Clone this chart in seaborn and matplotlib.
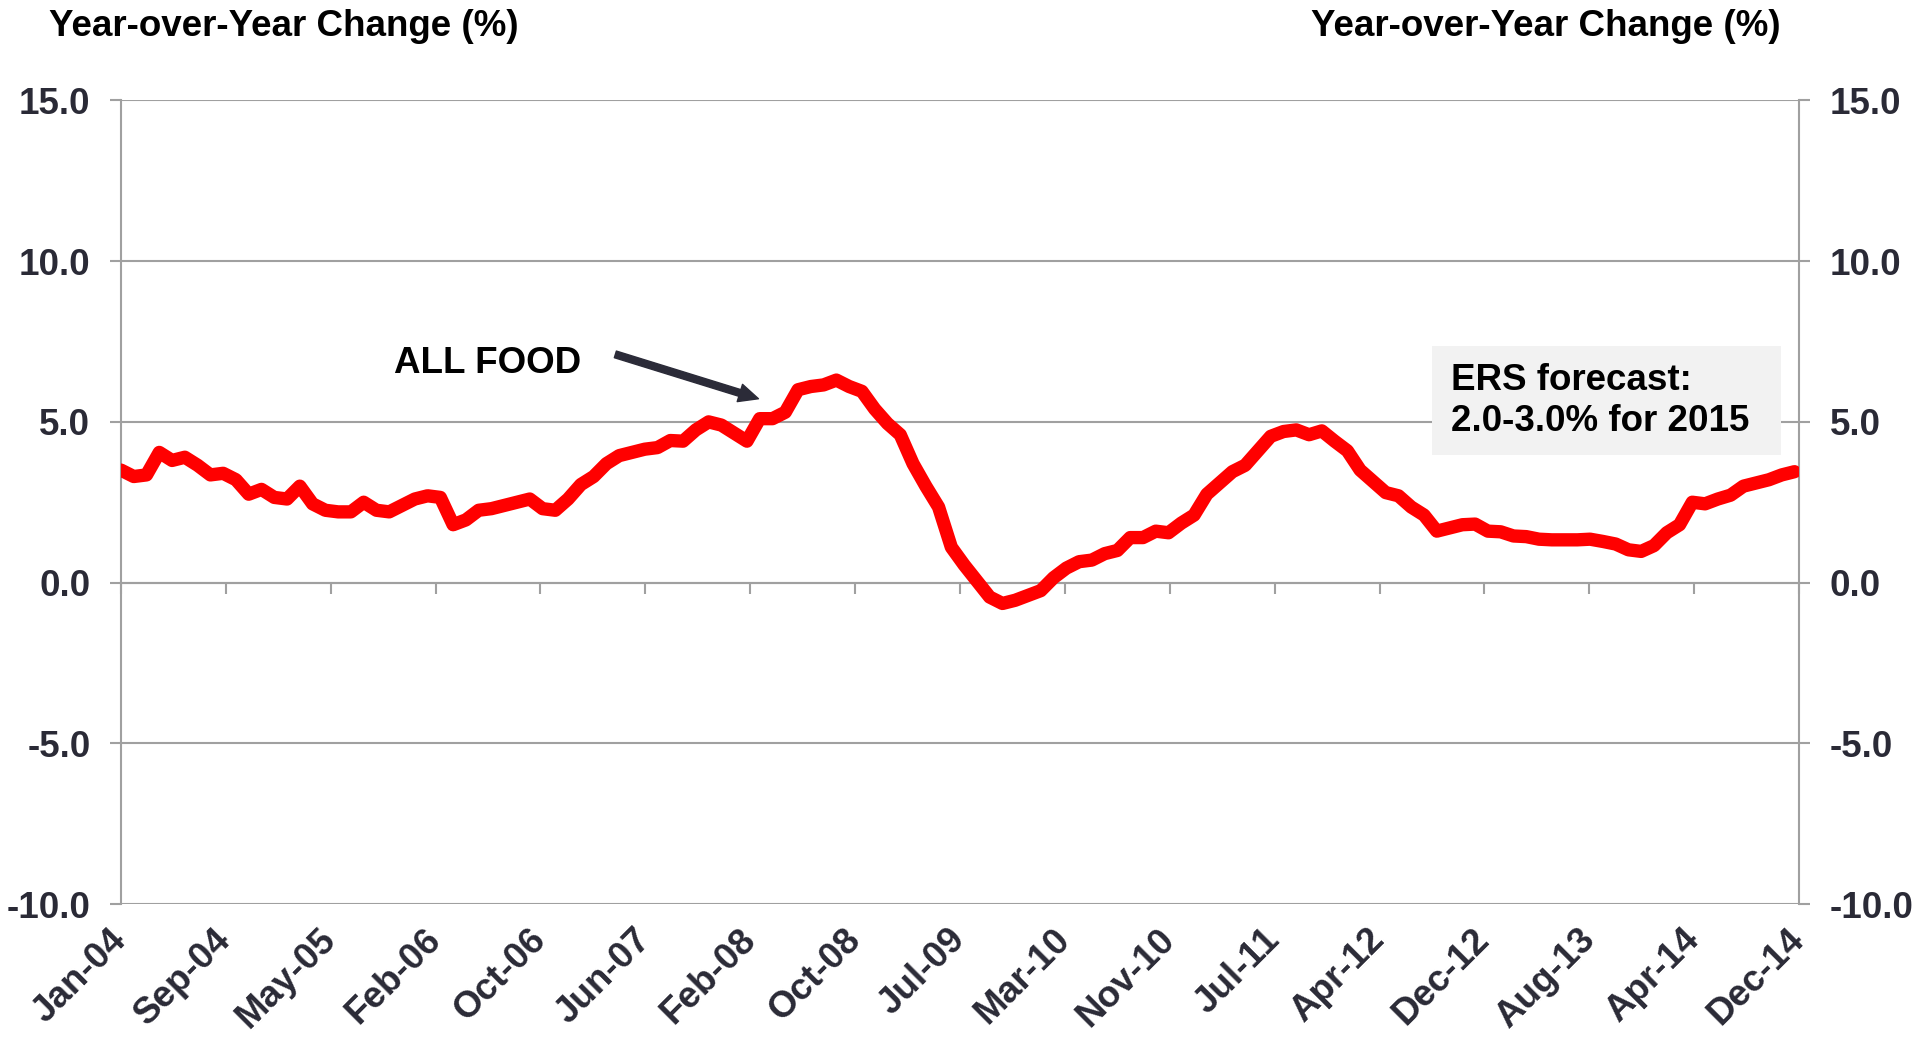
import numpy as np
import pandas as pd
import matplotlib
matplotlib.use("Agg")
import matplotlib.pyplot as plt
import seaborn as sns

# Monthly year-over-year change in all-food CPI, Jan-2004 .. Dec-2014
vals_2004 = [3.5, 3.3, 3.35, 4.05, 3.8, 3.9, 3.65, 3.35, 3.4, 3.2, 2.75, 2.9]
vals_2005 = [2.65, 2.6, 3.0, 2.45, 2.25, 2.2, 2.2, 2.5, 2.25, 2.2, 2.4, 2.6]
vals_2006 = [2.7, 2.65, 1.8, 1.95, 2.25, 2.3, 2.4, 2.5, 2.6, 2.3, 2.25, 2.6]
vals_2007 = [3.05, 3.3, 3.7, 3.95, 4.05, 4.15, 4.2, 4.42, 4.4, 4.75, 5.0, 4.9]
vals_2008 = [4.65, 4.4, 5.1, 5.1, 5.3, 6.0, 6.1, 6.15, 6.3, 6.1, 5.95, 5.4]
vals_2009 = [4.95, 4.6, 3.7, 3.0, 2.35, 1.1, 0.55, 0.05, -0.45, -0.65, -0.55, -0.4]
vals_2010 = [-0.25, 0.15, 0.45, 0.65, 0.7, 0.9, 1.0, 1.4, 1.4, 1.6, 1.55, 1.85]
vals_2011 = [2.1, 2.75, 3.1, 3.45, 3.65, 4.1, 4.55, 4.7, 4.75, 4.6, 4.72, 4.4]
vals_2012 = [4.1, 3.5, 3.15, 2.8, 2.7, 2.35, 2.1, 1.6, 1.7, 1.8, 1.82, 1.6]
vals_2013 = [1.58, 1.45, 1.43, 1.35, 1.33, 1.33, 1.33, 1.35, 1.28, 1.2, 1.02, 0.97]
vals_2014 = [1.15, 1.55, 1.8, 2.5, 2.45, 2.6, 2.72, 3.0, 3.1, 3.2, 3.35, 3.45]

tick_labels = ["Jan-04", "Sep-04", "May-05", "Feb-06", "Oct-06", "Jun-07", "Feb-08",
               "Oct-08", "Jul-09", "Mar-10", "Nov-10", "Jul-11", "Apr-12", "Dec-12",
               "Aug-13", "Apr-14", "Dec-14"]
y_ticks = [-10, -5, 0, 5, 10, 15]

values = (vals_2004 + vals_2005 + vals_2006 + vals_2007 + vals_2008 + vals_2009
          + vals_2010 + vals_2011 + vals_2012 + vals_2013 + vals_2014)
df = pd.DataFrame({"month": np.arange(len(values)), "change": values})

sns.set_theme(style="white")
plt.rcParams["font.family"] = ["Liberation Sans", "DejaVu Sans"]
plt.rcParams["font.weight"] = "bold"
plt.rcParams["axes.unicode_minus"] = False

grid_c = "#A0A0A0"
label_c = "#2A2A36"

fig = plt.figure(figsize=(19.17, 10.41), dpi=100)
ax = fig.add_axes([0.0631, 0.1316, 0.9385 - 0.0631, 0.9035 - 0.1316])

sns.lineplot(data=df, x="month", y="change", color="#FF0000", linewidth=9.6, ax=ax)
for ln in ax.lines:
    ln.set_solid_joinstyle("round")
    ln.set_solid_capstyle("round")
    ln.set_zorder(5)

# category-style axis: 16 equal tick intervals
step = 8.21
tick_pos = [k * step for k in range(len(tick_labels))]
ax.set_xlim(0, step * 16)
ax.set_ylim(-10, 15)

ax.set_yticks(y_ticks)
ax.set_yticklabels([f"{v:.1f}" for v in y_ticks])
ax.yaxis.grid(True, color=grid_c, linewidth=1.5)
ax.set_axisbelow(True)
ax.tick_params(axis="y", which="both", left=True, right=True, labelleft=True,
               labelright=True, direction="out", length=8, width=1.5, color=grid_c,
               labelsize=26.5, labelcolor=label_c, pad=14)

ax.set_xticks(tick_pos)
ax.set_xticklabels(tick_labels, rotation=45, ha="right", va="center",
                   rotation_mode="anchor")
ax.tick_params(axis="x", length=0, labelsize=26.5, labelcolor=label_c, pad=22)

for s in ["top", "bottom"]:
    ax.spines[s].set_visible(False)
for s in ["left", "right"]:
    ax.spines[s].set_color(grid_c)
    ax.spines[s].set_linewidth(1.5)

# tick marks hang from the zero line
sec = ax.secondary_xaxis(0.4)
sec.set_xticks(tick_pos)
sec.tick_params(axis="x", direction="out", length=8, width=1.5, color=grid_c,
                labelbottom=False, labeltop=False)
for s in sec.spines.values():
    s.set_color(grid_c)
    s.set_linewidth(1.5)

ax.set_xlabel("")
ax.set_ylabel("")

# axis titles
fig.text(49 / 1917, 1 - 27 / 1041, "Year-over-Year Change (%)", ha="left",
         va="center", fontsize=26.5, fontweight="bold", color="black")
fig.text(1781 / 1917, 1 - 27 / 1041, "Year-over-Year Change (%)", ha="right",
         va="center", fontsize=26.5, fontweight="bold", color="black")

# annotation
ax.text(21.4, 6.83, "ALL FOOD", ha="left", va="center", fontsize=26.5,
        fontweight="bold", color="black")
ax.annotate("", xy=(49.9, 5.72), xytext=(38.7, 7.10),
            arrowprops=dict(width=5, headwidth=13, headlength=14,
                            color="#2B2B38", shrink=0))

# forecast box
box = plt.Rectangle((0.7813, 0.5588), 0.9893 - 0.7813, 0.6945 - 0.5588,
                    transform=ax.transAxes, facecolor="#F2F2F2", edgecolor="none",
                    zorder=3)
ax.add_patch(box)
ax.text(0.7926, 0.652, "ERS forecast:", transform=ax.transAxes, ha="left",
        va="center", fontsize=26.5, fontweight="bold", color="black", zorder=4)
ax.text(0.7926, 0.600, "2.0-3.0% for 2015", transform=ax.transAxes, ha="left",
        va="center", fontsize=26.5, fontweight="bold", color="black", zorder=4)

fig.savefig("out.png", dpi=100)
